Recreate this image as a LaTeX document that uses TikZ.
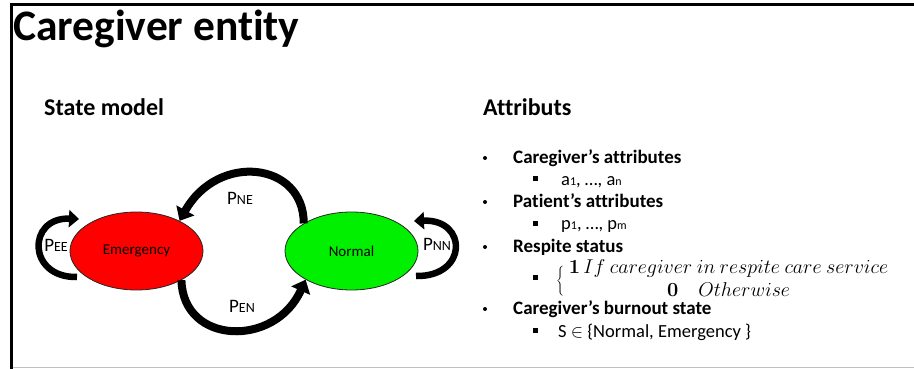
\RequirePackage{fix-cm}
\documentclass[tikz,border=0pt]{standalone}
\usepackage[no-math]{fontspec}
\setmainfont[Ligatures=NoCommon]{Carlito}
\usetikzlibrary{shapes.geometric,arrows.meta}
\definecolor{stred}{RGB}{255,0,0}
\definecolor{stgreen}{RGB}{0,240,0}
\begin{document}
\begin{tikzpicture}[x=1pt,y=-1pt,
  statenode/.style={ellipse, draw=black!85, line width=0.8pt, minimum width=133pt, minimum height=78pt, inner sep=0pt, font=\fontsize{15}{17}\selectfont},
  bigarrow/.style={line width=8pt, -{Triangle[width=20pt,length=12pt]}},
  looparrow/.style={line width=6.5pt, -{Triangle[width=17pt,length=10pt]}},
  plabel/.style={inner sep=0pt},
  headtext/.style={font=\bfseries\fontsize{24}{28}\selectfont, anchor=base west, inner sep=0pt},
  itemtext/.style={font=\bfseries\fontsize{19}{22}\selectfont, anchor=base west, inner sep=0pt},
  subtext/.style={font=\fontsize{18.5}{21}\selectfont, anchor=base west, inner sep=0pt},
  bulletdot/.style={circle, fill=black, minimum size=4pt, inner sep=0pt},
  bulletsq/.style={rectangle, fill=black, minimum size=5pt, inner sep=0pt}
]
\newcommand{\plab}[2]{{\fontsize{19}{20}\selectfont #1}{\fontsize{14}{15}\selectfont #2}}
\useasboundingbox (0,0) rectangle (914,369);
\fill[white] (0,0) rectangle (914,369);
% frame
\draw[line width=3pt] (11,369) -- (11,5) -- (914,5);
\draw[black!25, line width=1pt] (12.5,367.5) -- (914,367.5);

% title
\node[anchor=base west, inner sep=0pt, font=\bfseries\fontsize{43.5}{48}\selectfont] (title) at (13,41) {Caregiver entity};

% left: state model
\node[headtext] (sm) at (44,116) {State model};
\node[statenode, fill=stred] (E) at (136.5,251) {Emergency};
\node[statenode, fill=stgreen] (N) at (351.5,251) {Normal};

\coordinate (ees) at (77,277);
\coordinate (eet) at (79,219);
\coordinate (nns) at (416,276);
\coordinate (nnt) at (414,221);

\draw[bigarrow] (N.150) .. controls (304,162) and (218,152) .. (E.35);
\draw[bigarrow] (E.-33) .. controls (183,345) and (275,348) .. (N.212);
\draw[looparrow] (ees) .. controls (27,278) and (27,217) .. (eet);
\draw[looparrow] (nns) .. controls (468,277) and (468,219) .. (nnt);

\node[plabel] (pne) at (240,198) {\plab{P}{NE}};
\node[plabel] (pen) at (242,306) {\plab{P}{EN}};
\node[plabel] (pee) at (56,245) {\plab{P}{EE}};
\node[plabel] (pnn) at (437,244) {\plab{P}{NN}};

% right: attributes
\node[headtext] (attr) at (483,116) {Attributs};

\node[bulletdot] (b1) at (485,158) {};
\node[itemtext] (i1) at (513,163) {Caregiver’s attributes};
\node[bulletsq] (s1) at (535,178.5) {};
\node[subtext] (t1) at (561,185) {a{\fontsize{12}{14}\selectfont 1}, …, a{\fontsize{12}{14}\selectfont n}};

\node[bulletdot] (b2) at (485,202) {};
\node[itemtext] (i2) at (513,207) {Patient’s attributes};
\node[bulletsq] (s2) at (535,223) {};
\node[subtext] (t2) at (561,229) {p{\fontsize{12}{14}\selectfont 1}, …, p{\fontsize{12}{14}\selectfont m}};

\node[bulletdot] (b3) at (485,247) {};
\node[itemtext] (i3) at (513,252) {Respite status};
\node[bulletsq] (s3) at (535,277) {};
\node[anchor=west, inner sep=0pt, font=\fontsize{20}{22}\selectfont] (t3) at (556,281)
  {\renewcommand{\arraystretch}{0.8}$\left\{\rule[-11pt]{0pt}{22pt}\right.\begin{array}{@{}c@{}}\mathbf{1}\,If\ caregiver\ in\ respite\ care\ service\\[3.5pt] \mathbf{0}\quad Otherwise\end{array}$};

\node[bulletdot] (b4) at (485,309) {};
\node[itemtext] (i4) at (513,314) {Caregiver’s burnout state};
\node[bulletsq] (s4) at (535,330) {};
\node[subtext] (t4) at (558,337) {S $\in$ \{Normal, Emergency \}};
\end{tikzpicture}
\end{document}
